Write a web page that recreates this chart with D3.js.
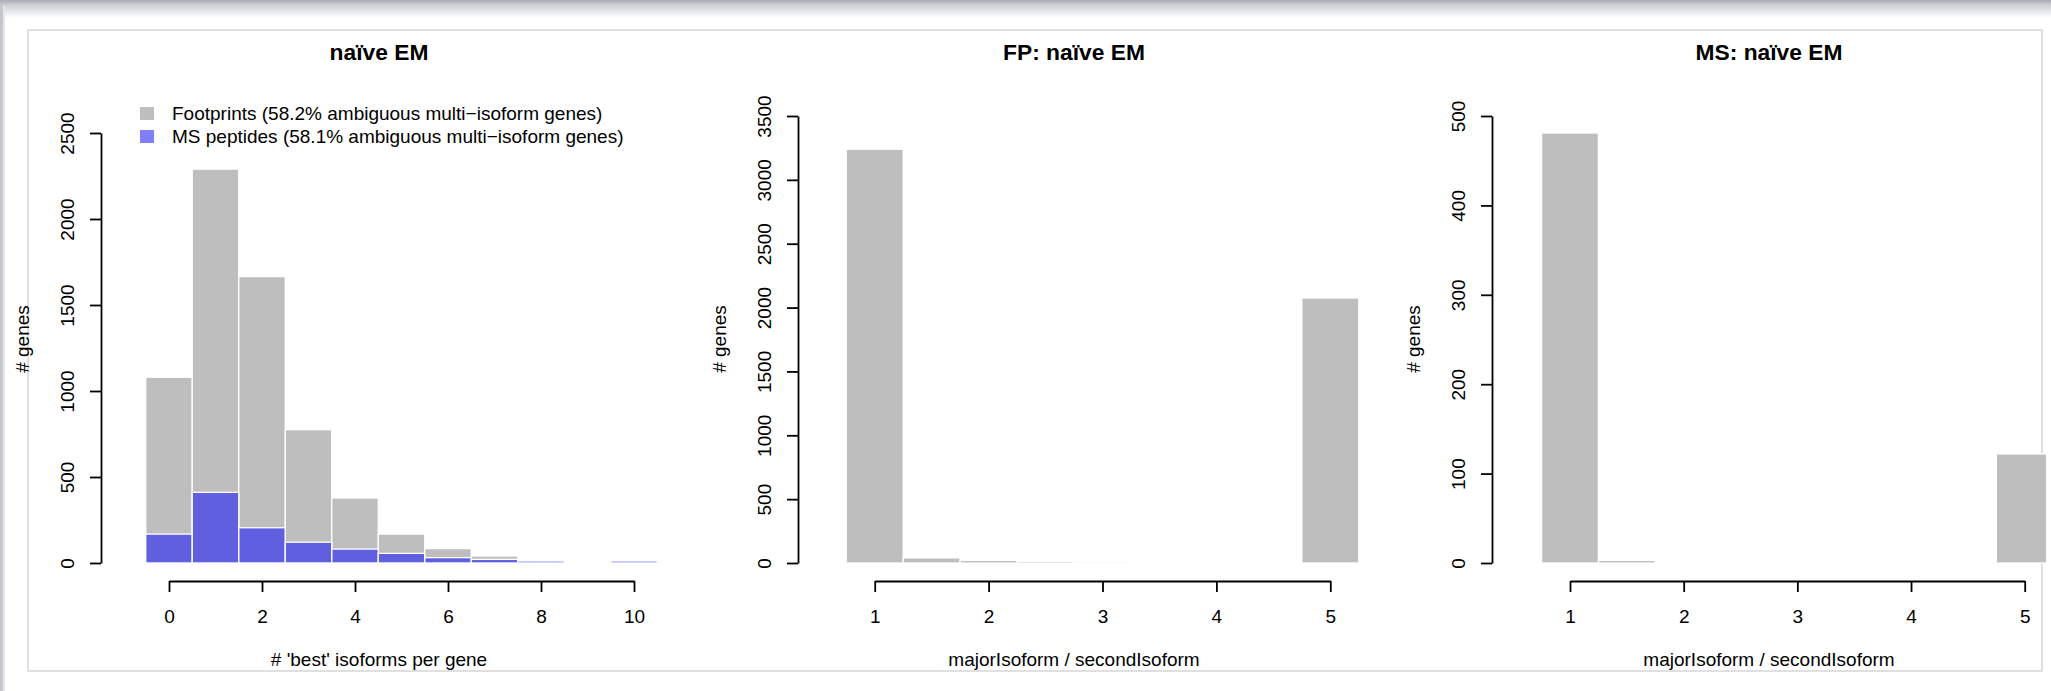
<!DOCTYPE html>
<html>
<head>
<meta charset="utf-8">
<script src="https://cdn.jsdelivr.net/npm/d3@7"></script>
<style>
  body { margin: 0; background: #fff; }
  text { font-family: "Liberation Sans", Arial, Helvetica, sans-serif; fill: #000; }
</style>
</head>
<body>
<script>
var W = 2051, H = 691;

// panel 1: number of 'best' isoforms per gene
var bestIsoforms = [0, 1, 2, 3, 4, 5, 6, 7, 8, 9, 10];
var footprintCounts = [1080, 2290, 1665, 775, 378, 168, 84, 41, 4, 0, 0];
var msPeptideCounts = [168, 411, 205, 121, 81, 56, 31, 21, 12, 0, 12];
var legendLabels = ["Footprints (58.2% ambiguous multi\u2212isoform genes)",
                    "MS peptides (58.1% ambiguous multi\u2212isoform genes)"];

// panels 2 and 3: majorIsoform / secondIsoform
var ratioBins = [1, 1.5, 2, 2.5, 3, 3.5, 4, 4.5, 5];
var fpRatioCounts = [3240, 40, 21, 13, 11, 0, 5, 0, 2075];
var msRatioCounts = [481, 3, 0, 0, 0, 0, 0, 0, 122];

var yTicks1 = [0, 500, 1000, 1500, 2000, 2500];
var yTicks2 = [0, 500, 1000, 1500, 2000, 2500, 3000, 3500];
var yTicks3 = [0, 100, 200, 300, 400, 500];
var xTicks1 = [0, 2, 4, 6, 8, 10];
var xTicks2 = [1, 2, 3, 4, 5];

var grey = "#bebebe", blue = "rgba(0,0,255,0.5)";
var fs = 19;

var svg = d3.select("body").append("svg")
  .attr("width", W).attr("height", H);

// window chrome: shadow on top and left edge
var defs = svg.append("defs");
var g1 = defs.append("linearGradient").attr("id", "topShade").attr("x1", 0).attr("y1", 0).attr("x2", 0).attr("y2", 1);
g1.append("stop").attr("offset", "0").attr("stop-color", "#a7abb3");
g1.append("stop").attr("offset", "0.25").attr("stop-color", "#c9ccd1");
g1.append("stop").attr("offset", "1").attr("stop-color", "#ffffff");
svg.append("rect").attr("x", 0).attr("y", 0).attr("width", W).attr("height", 18).attr("fill", "url(#topShade)");
svg.append("rect").attr("x", 0).attr("y", 4).attr("width", 3).attr("height", H - 4).attr("fill", "#c4c7cc");
svg.append("rect").attr("x", 3).attr("y", 6).attr("width", 2).attr("height", H - 6).attr("fill", "#e6e7e9");

// container frame
svg.append("rect").attr("x", 28).attr("y", 30).attr("width", 2014).attr("height", 641)
  .attr("fill", "none").attr("stroke", "#d6d6d6").attr("stroke-width", 1.5);

defs.append("clipPath").attr("id", "imgClip").append("rect")
  .attr("x", 0).attr("y", 0).attr("width", 2046).attr("height", 691);

var root = svg.append("g").attr("clip-path", "url(#imgClip)");

function drawPanel(p) {
  var g = root.append("g");
  var x = d3.scaleLinear().domain(p.xDomain).range(p.xRange);
  var y = d3.scaleLinear().domain([0, p.yTicks[p.yTicks.length - 1]]).range([563, p.yTop]);

  // bars
  p.series.forEach(function(s) {
    g.append("g").selectAll("rect")
      .data(s.values.map(function(v, i) { return {c: p.cats[i], v: v}; }).filter(function(d) { return d.v > 0; }))
      .enter().append("rect")
      .attr("x", function(d) { return x(d.c - p.half); })
      .attr("width", function(d) { return x(d.c + p.half) - x(d.c - p.half); })
      .attr("y", function(d) { return y(d.v); })
      .attr("height", function(d) { return y(0) - y(d.v); })
      .attr("fill", s.color)
      .attr("stroke", "#fff").attr("stroke-width", 1.3);
  });

  // y axis
  var ya = g.append("g").attr("transform", "translate(" + p.yAxisX + ",0)")
    .call(d3.axisLeft(y).tickValues(p.yTicks).tickSize(11).tickSizeOuter(0).tickFormat(d3.format("d")));
  ya.selectAll("text").attr("transform", "rotate(-90)")
    .attr("x", 0).attr("y", -27.5).attr("dy", 0).attr("text-anchor", "middle");

  // x axis
  var xa = g.append("g").attr("transform", "translate(0,581)")
    .call(d3.axisBottom(x).tickValues(p.xTicks).tickSize(11).tickSizeOuter(0).tickFormat(d3.format("d")));
  xa.selectAll("text").attr("y", 42).attr("dy", 0);

  [ya, xa].forEach(function(a) {
    a.attr("font-family", null).attr("font-size", null);
    a.selectAll("text").style("font-size", fs + "px");
    a.selectAll("path, line").attr("stroke", "#000").attr("stroke-width", 1.8);
  });

  // titles
  g.append("text").attr("x", p.titleX).attr("y", 60).attr("text-anchor", "middle")
    .style("font-size", (fs * 1.2) + "px").style("font-weight", "bold").text(p.title);
  g.append("text").attr("x", p.titleX).attr("y", 666).attr("text-anchor", "middle")
    .style("font-size", fs + "px").text(p.xlab);
  g.append("text").attr("transform", "translate(" + (p.yAxisX - 72) + ",339) rotate(-90)")
    .attr("text-anchor", "middle").style("font-size", fs + "px").text("# genes");
  return g;
}

var p1 = drawPanel({
  title: "na\u00efve EM", xlab: "# 'best' isoforms per gene", titleX: 379,
  cats: bestIsoforms, half: 0.5,
  series: [{values: footprintCounts, color: grey}, {values: msPeptideCounts, color: blue}],
  xDomain: [0, 10], xRange: [169, 634], xTicks: xTicks1,
  yTicks: yTicks1, yTop: 133, yAxisX: 101
});

// legend
var legColors = [grey, blue];
legendLabels.forEach(function(t, i) {
  var ly = 120 + i * 23;
  p1.append("rect").attr("x", 140).attr("y", ly - 13).attr("width", 14).attr("height", 13)
    .attr("fill", legColors[i]);
  p1.append("text").attr("x", 172).attr("y", ly).style("font-size", fs + "px").text(t);
});

drawPanel({
  title: "FP: na\u00efve EM", xlab: "majorIsoform / secondIsoform", titleX: 1074,
  cats: ratioBins, half: 0.25,
  series: [{values: fpRatioCounts, color: grey}],
  xDomain: [1, 5], xRange: [874.7, 1330.3], xTicks: xTicks2,
  yTicks: yTicks2, yTop: 116, yAxisX: 798
});

drawPanel({
  title: "MS: na\u00efve EM", xlab: "majorIsoform / secondIsoform", titleX: 1769,
  cats: ratioBins, half: 0.25,
  series: [{values: msRatioCounts, color: grey}],
  xDomain: [1, 5], xRange: [1570, 2024.7], xTicks: xTicks2,
  yTicks: yTicks3, yTop: 116, yAxisX: 1492
});
</script>
</body>
</html>
